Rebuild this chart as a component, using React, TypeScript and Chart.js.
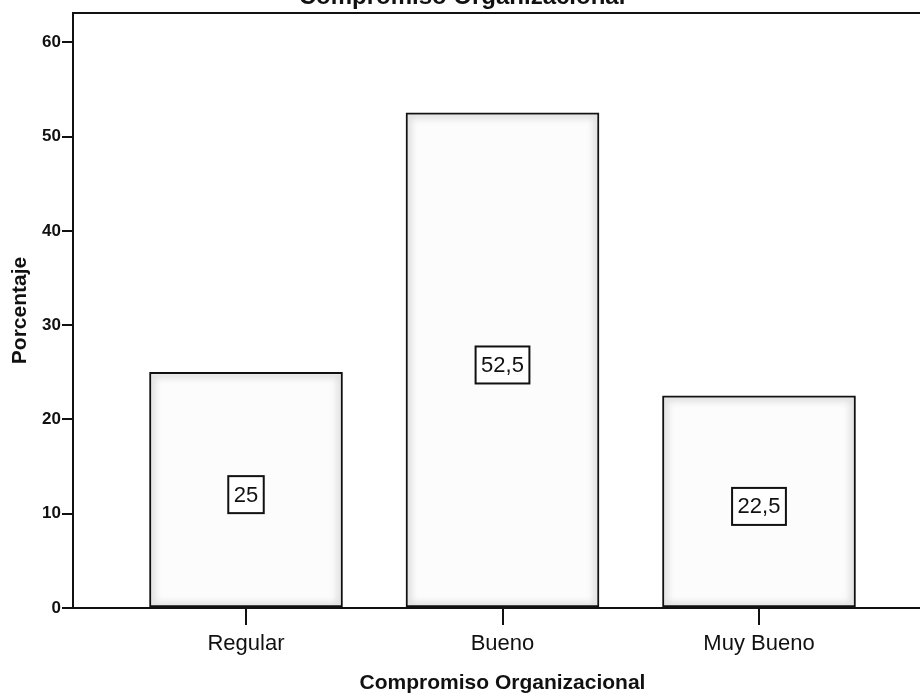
import React, { useEffect, useRef } from "react";
import { Chart, registerables } from "chart.js";

Chart.register(...registerables);

// Frequency table: Compromiso Organizacional (percent of respondents)
const categories = ["Regular", "Bueno", "Muy Bueno"];
const percentages = [25, 52.5, 22.5];
const yTicks = [0, 10, 20, 30, 40, 50, 60];
const yMax = 63.1;

const chartTitle = "Compromiso Organizacional";
const xTitle = "Compromiso Organizacional";
const yTitle = "Porcentaje";

const FONT = '"Liberation Sans", Arial, Helvetica, sans-serif';
const INK = "#111111";

const formatValue = (v: number) => String(v).replace(".", ",");

// Heading above the plot frame (only its lower part falls inside the canvas).
const headingPlugin = {
  id: "heading",
  afterDraw(chart: any) {
    const { ctx } = chart;
    ctx.save();
    ctx.font = `bold 24px ${FONT}`;
    ctx.fillStyle = INK;
    ctx.textAlign = "center";
    ctx.textBaseline = "alphabetic";
    ctx.fillText(chartTitle, 462, 4);
    ctx.restore();
  },
};

// Top and right sides of the plot frame.
const framePlugin = {
  id: "frame",
  afterDraw(chart: any) {
    const { ctx, chartArea: a } = chart;
    ctx.save();
    ctx.strokeStyle = INK;
    ctx.lineWidth = 2;
    ctx.beginPath();
    ctx.moveTo(a.left, a.top);
    ctx.lineTo(a.right, a.top);
    ctx.lineTo(a.right, a.bottom);
    ctx.stroke();
    ctx.restore();
  },
};

// Soft grey shading along the inside edges of each bar, then the value boxes.
const barDecorPlugin = {
  id: "barDecor",
  afterDatasetsDraw(chart: any) {
    const { ctx } = chart;
    const meta = chart.getDatasetMeta(0);
    meta.data.forEach((bar: any, i: number) => {
      const { x, y, base, width } = bar.getProps(["x", "y", "base", "width"], true);
      const l = x - width / 2 + 2;
      const r = x + width / 2 - 2;
      const t = Math.min(y, base) + 2;
      const b = Math.max(y, base) - 1;

      ctx.save();
      ctx.beginPath();
      ctx.rect(l, t, r - l, b - t);
      ctx.clip();
      ctx.filter = "blur(3px)";
      ctx.strokeStyle = "rgba(0,0,0,0.11)";
      ctx.lineWidth = 8;
      ctx.strokeRect(l, t, r - l, b - t);
      ctx.restore();

      const text = formatValue(percentages[i]);
      ctx.save();
      ctx.font = `22px ${FONT}`;
      const tw = ctx.measureText(text).width;
      const bw = tw + 11;
      const bh = 37;
      const cy = (y + base) / 2 + 5;
      ctx.fillStyle = "#ffffff";
      ctx.fillRect(x - bw / 2, cy - bh / 2, bw, bh);
      ctx.strokeStyle = INK;
      ctx.lineWidth = 2;
      ctx.strokeRect(x - bw / 2, cy - bh / 2, bw, bh);
      ctx.fillStyle = INK;
      ctx.textAlign = "center";
      ctx.textBaseline = "middle";
      ctx.fillText(text, x, cy + 1);
      ctx.restore();
    });
  },
};

export default function App() {
  const canvasRef = useRef<HTMLCanvasElement>(null);

  useEffect(() => {
    const canvas = canvasRef.current;
    if (!canvas) return;

    const chart = new Chart(canvas, {
      type: "bar",
      data: {
        datasets: [
          {
            label: yTitle,
            data: percentages.map((v, i) => ({ x: i + 1, y: v })),
            backgroundColor: "#fcfcfc",
            borderColor: INK,
            borderWidth: 2,
            borderSkipped: false,
            barThickness: 193,
          },
        ],
      },
      options: {
        animation: false,
        responsive: false,
        maintainAspectRatio: false,
        layout: { padding: { left: 0, top: 13, right: 8, bottom: 0 } },
        plugins: {
          legend: { display: false },
          tooltip: { enabled: false },
          title: { display: false },
        },
        scales: {
          x: {
            type: "linear",
            offset: false,
            min: 0.3255,
            max: 3.6745,
            afterBuildTicks: (scale: any) => {
              scale.ticks = categories.map((_, i) => ({ value: i + 1 }));
            },
            afterFit: (scale: any) => {
              scale.height = 88;
            },
            ticks: {
              callback: (v: any) => categories[Number(v) - 1] ?? "",
              font: { family: FONT, size: 22 },
              color: INK,
              padding: 6,
              maxRotation: 0,
              autoSkip: false,
            },
            grid: {
              display: true,
              offset: false,
              drawOnChartArea: false,
              drawTicks: true,
              tickLength: 17,
              color: INK,
              lineWidth: 2,
            },
            border: { display: true, color: INK, width: 2 },
            title: {
              display: true,
              text: xTitle,
              font: { family: FONT, size: 21, weight: "bold" },
              color: INK,
              padding: { top: 0, bottom: 0 },
            },
          },
          y: {
            type: "linear",
            min: 0,
            max: yMax,
            afterBuildTicks: (scale: any) => {
              scale.ticks = yTicks.map((v) => ({ value: v }));
            },
            afterFit: (scale: any) => {
              scale.width = 73;
            },
            ticks: {
              font: { family: FONT, size: 17, weight: "bold" },
              color: INK,
              padding: 1,
            },
            grid: {
              display: true,
              drawOnChartArea: false,
              drawTicks: true,
              tickLength: 11,
              color: INK,
              lineWidth: 2,
            },
            border: { display: true, color: INK, width: 2 },
            title: {
              display: true,
              text: yTitle,
              font: { family: FONT, size: 21, weight: "bold" },
              color: INK,
              padding: { top: 8, bottom: 0 },
            },
          },
        },
      },
      plugins: [barDecorPlugin, framePlugin, headingPlugin],
    } as any);

    return () => chart.destroy();
  }, []);

  return (
    <div
      style={{
        position: "fixed",
        left: 0,
        top: 0,
        width: 920,
        height: 696,
        overflow: "hidden",
        background: "#ffffff",
      }}
    >
      <canvas
        ref={canvasRef}
        width={940}
        height={696}
        style={{ display: "block", width: 940, height: 696 }}
      />
    </div>
  );
}
